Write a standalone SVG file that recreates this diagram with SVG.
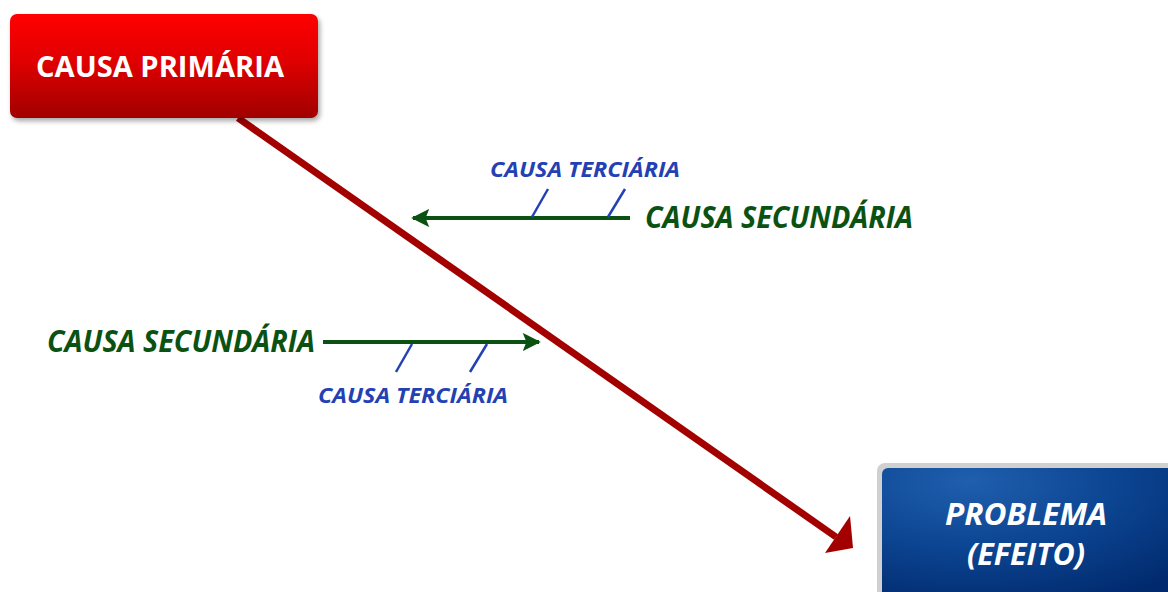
<svg xmlns="http://www.w3.org/2000/svg" width="1168" height="592" viewBox="0 0 1168 592">
<defs>
<linearGradient id="gRed" x1="0" y1="0" x2="0" y2="1">
<stop offset="0" stop-color="#ff0000"/>
<stop offset="0.45" stop-color="#e00000"/>
<stop offset="1" stop-color="#a00000"/>
</linearGradient>
<radialGradient id="gBlue" cx="0.3" cy="0.1" r="1">
<stop offset="0" stop-color="#1f5fae"/>
<stop offset="0.5" stop-color="#0c4592"/>
<stop offset="1" stop-color="#012a6e"/>
</radialGradient>
<filter id="sh" x="-10%" y="-10%" width="130%" height="130%">
<feDropShadow dx="2" dy="3" stdDeviation="2.5" flood-color="#000" flood-opacity="0.35"/>
</filter>
<marker id="mGreen" viewBox="0 0 10 10" refX="9" refY="5" markerWidth="4.5" markerHeight="4.5" orient="auto" markerUnits="strokeWidth">
<path d="M0,0 L10,5 L0,10 L2,5 z" fill="#0b5212"/>
</marker>
</defs>
<style>
.sec{font-family:"Open Sans","Liberation Sans",sans-serif;font-weight:700;font-style:italic;fill:#0b5212;font-size:31px}
.ter{font-family:"Open Sans","Liberation Sans",sans-serif;font-weight:700;font-style:italic;fill:#2441b4;font-size:21px}
.green{stroke:#0b5212;stroke-width:4;fill:none}
.slash{stroke:#2441b4;stroke-width:2.5;fill:none}
.box{font-family:"Open Sans","Liberation Sans",sans-serif;font-weight:700;fill:#fff}
</style>
<rect width="1168" height="592" fill="#fff"/>
<g id="connectors">
<line x1="238" y1="118" x2="836" y2="537" stroke="#a30000" stroke-width="7"/>
<polygon points="853,548 825,553 850,516" fill="#a30000"/>
<line class="green" x1="630" y1="218" x2="413" y2="218" marker-end="url(#mGreen)"/>
<line class="green" x1="323" y1="342" x2="539" y2="342" marker-end="url(#mGreen)"/>
<line class="slash" x1="532" y1="217" x2="548" y2="189"/>
<line class="slash" x1="608" y1="217" x2="625" y2="189"/>
<line class="slash" x1="396" y1="372" x2="412" y2="344"/>
<line class="slash" x1="470" y1="372" x2="487" y2="344"/>
</g>
<g id="causa-primaria">
<rect x="10" y="14" width="308" height="104" rx="7" fill="url(#gRed)" filter="url(#sh)"/>
<text class="box" x="160" y="77" font-size="29" text-anchor="middle" textLength="248" lengthAdjust="spacingAndGlyphs">CAUSA PRIMÁRIA</text>
</g>
<g id="problema">
<rect x="877" y="463" width="300" height="140" rx="8" fill="#d0d0d0"/>
<rect x="882" y="468" width="292" height="132" rx="6" fill="url(#gBlue)"/>
<text class="box" x="1026" y="525" font-size="31" font-style="italic" text-anchor="middle" textLength="162" lengthAdjust="spacingAndGlyphs">PROBLEMA</text>
<text class="box" x="1026" y="565" font-size="31" font-style="italic" text-anchor="middle" textLength="118" lengthAdjust="spacingAndGlyphs">(EFEITO)</text>
</g>
<g id="secundaria-1">
<text class="sec" x="645" y="228" textLength="268" lengthAdjust="spacingAndGlyphs">CAUSA SECUNDÁRIA</text>
</g>
<g id="terciaria-1">
<text class="ter" x="490" y="177" textLength="190" lengthAdjust="spacingAndGlyphs">CAUSA TERCIÁRIA</text>
</g>
<g id="secundaria-2">
<text class="sec" x="47" y="352" textLength="268" lengthAdjust="spacingAndGlyphs">CAUSA SECUNDÁRIA</text>
</g>
<g id="terciaria-2">
<text class="ter" x="318" y="403" textLength="190" lengthAdjust="spacingAndGlyphs">CAUSA TERCIÁRIA</text>
</g>
</svg>
